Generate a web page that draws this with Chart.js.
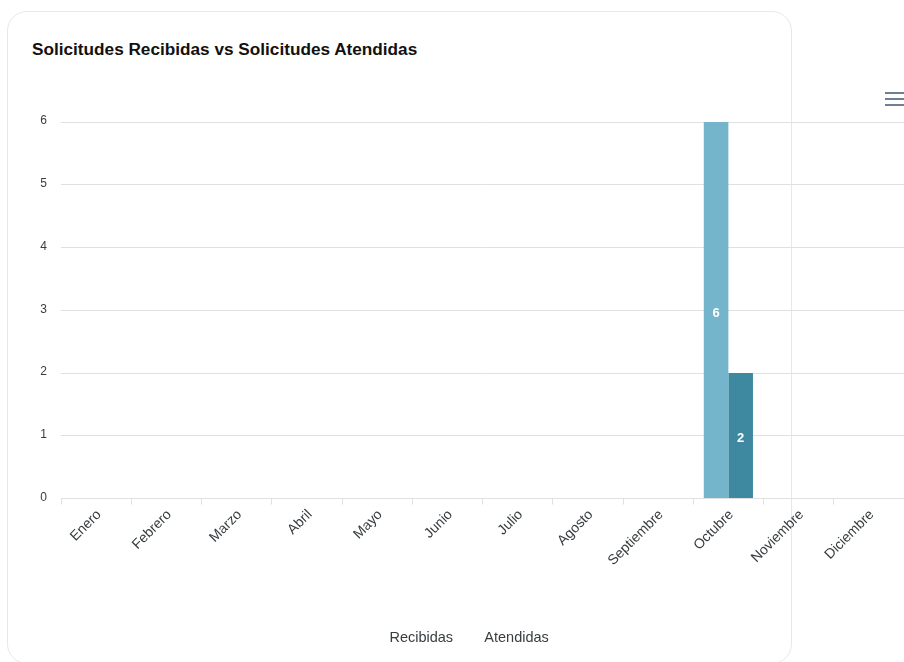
<!DOCTYPE html>
<html>
<head>
<meta charset="utf-8">
<script src="https://cdn.jsdelivr.net/npm/chart.js@4.4.1/dist/chart.umd.min.js"></script>
<style>
html,body{margin:0;padding:0;background:#fff;width:904px;height:662px;overflow:hidden;}
#card{position:absolute;left:7px;top:11px;width:783px;height:651px;border:1px solid #e8e8e8;border-radius:20px;}
#title{position:absolute;left:32px;top:39px;font:bold 17.2px "Liberation Sans",Arial,sans-serif;color:#111;line-height:20px;white-space:nowrap;}
#menu{position:absolute;left:885px;top:92px;width:19px;}
#menu div{height:2px;background:#6e8192;margin-bottom:4px;}
#c{position:absolute;left:0;top:0;}
</style>
</head>
<body>
<div id="card"></div>
<div id="title">Solicitudes Recibidas vs Solicitudes Atendidas</div>
<canvas id="c" width="904" height="662"></canvas>
<div id="menu"><div></div><div></div><div></div></div>
<script>
const categories = ['Enero','Febrero','Marzo','Abril','Mayo','Junio','Julio','Agosto','Septiembre','Octubre','Noviembre','Diciembre'];
const recibidas = [0,0,0,0,0,0,0,0,0,6,0,0];
const atendidas = [0,0,0,0,0,0,0,0,0,2,0,0];
const seriesNames = ['Recibidas','Atendidas'];
const yMin = 0, yMax = 6, yStep = 1;

const FONT = '"Liberation Sans", Arial, Helvetica, sans-serif';
const TEXT = '#373d3f';
const GRID = '#e0e0e0';

const valueLabels = {
  id: 'valueLabels',
  afterDatasetsDraw(chart) {
    const ctx = chart.ctx;
    ctx.save();
    ctx.font = 'bold 13px ' + FONT;
    ctx.fillStyle = '#ffffff';
    ctx.textAlign = 'center';
    ctx.textBaseline = 'middle';
    chart.data.datasets.forEach((ds, di) => {
      const meta = chart.getDatasetMeta(di);
      meta.data.forEach((bar, i) => {
        const v = ds.data[i];
        if (!v) return;
        const p = bar.getProps(['x', 'y', 'base'], true);
        ctx.fillText(String(v), p.x, (p.y + p.base) / 2 + 3);
      });
    });
    ctx.restore();
  }
};

new Chart(document.getElementById('c'), {
  type: 'bar',
  data: {
    labels: categories,
    datasets: [
      { label: seriesNames[0], data: recibidas, backgroundColor: '#74b5cb', borderWidth: 0, categoryPercentage: 0.7, barPercentage: 1 },
      { label: seriesNames[1], data: atendidas, backgroundColor: '#3e89a0', borderWidth: 0, categoryPercentage: 0.7, barPercentage: 1 }
    ]
  },
  options: {
    responsive: false,
    animation: false,
    devicePixelRatio: 1,
    layout: { padding: { top: 122, left: 15, right: 0, bottom: 7 } },
    plugins: {
      title: { display: false },
      tooltip: { enabled: false },
      legend: {
        position: 'bottom',
        labels: {
          boxWidth: 12,
          boxHeight: 12,
          padding: 12,
          color: TEXT,
          font: { family: FONT, size: 14.5 },
          generateLabels(chart) {
            const items = Chart.defaults.plugins.legend.labels.generateLabels(chart);
            return items.map(it => Object.assign(it, { fillStyle: 'rgba(0,0,0,0)', strokeStyle: 'rgba(0,0,0,0)', lineWidth: 0 }));
          }
        }
      }
    },
    scales: {
      x: {
        grid: { offset: true, drawOnChartArea: false, drawTicks: true, tickLength: 6, color: GRID },
        border: { display: true, color: GRID },
        ticks: { autoSkip: false, minRotation: 45, maxRotation: 45, color: TEXT, font: { family: FONT, size: 14 }, padding: 2, labelOffset: 3 },
        afterFit(a) { a.height = 120; }
      },
      y: {
        min: yMin, max: yMax,
        grid: { color: GRID, drawTicks: false },
        border: { display: false },
        ticks: { stepSize: yStep, padding: 14, color: TEXT, font: { family: FONT, size: 12 }, labelOffset: -1 },
        afterFit(a) { a.width = 46; }
      }
    }
  },
  plugins: [valueLabels]
});
</script>
</body>
</html>
